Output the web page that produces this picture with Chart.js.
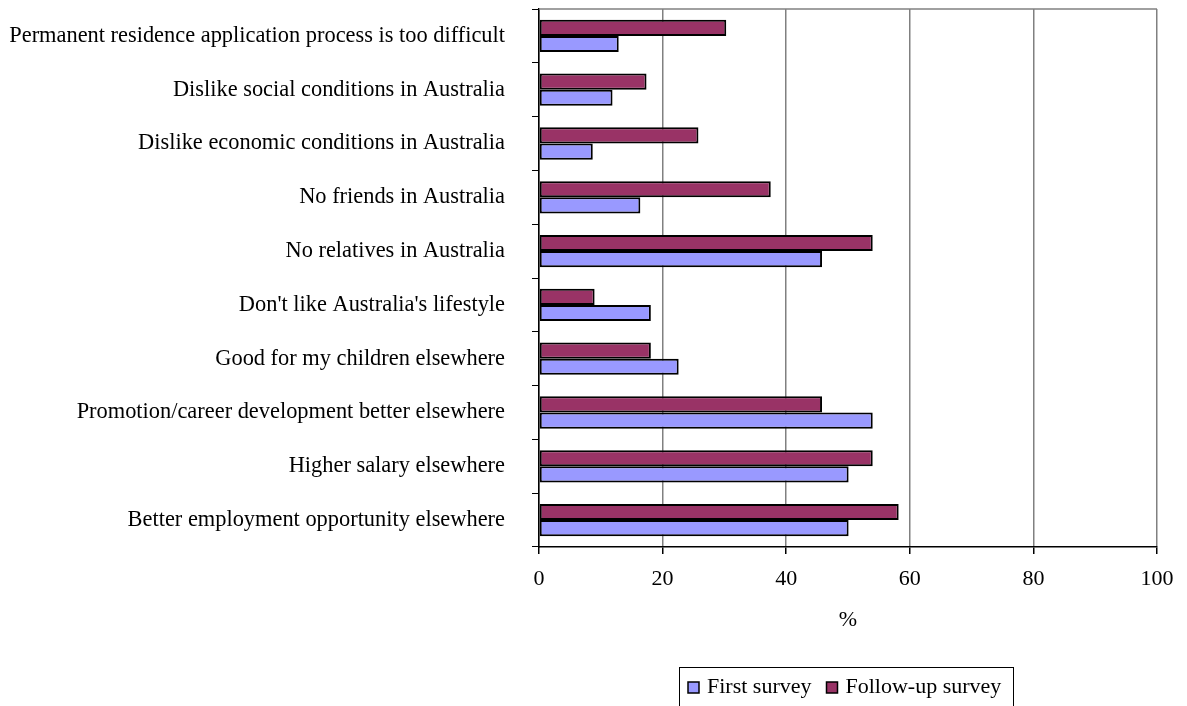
<!DOCTYPE html>
<html>
<head>
<meta charset="utf-8">
<script src="https://cdn.jsdelivr.net/npm/chart.js@4/dist/chart.umd.min.js"></script>
<style>
  body { margin: 0; background: #fff; }
  #wrap { width: 1187px; height: 706px; position: relative; }
</style>
</head>
<body>
<div id="wrap"><canvas id="myBarChart"></canvas></div>
<script>
var categories = [
    "Permanent residence application process is too difficult",
    "Dislike social conditions in Australia",
    "Dislike economic conditions in Australia",
    "No friends in Australia",
    "No relatives in Australia",
    "Don't like Australia's lifestyle",
    "Good for my children elsewhere",
    "Promotion/career development better elsewhere",
    "Higher salary elsewhere",
    "Better employment opportunity elsewhere"
];
var firstSurvey = [12.9, 11.9, 8.7, 16.4, 45.8, 18.1, 22.6, 54.0, 50.1, 50.1];
var followUpSurvey = [30.3, 17.4, 25.8, 37.5, 54.0, 9.0, 18.1, 45.8, 54.0, 58.2];
var xTicks = [0, 20, 40, 60, 80, 100];
var axisTitle = "%";

Chart.defaults.font.family = "'Liberation Serif', 'Times New Roman', serif";
Chart.defaults.font.size = 22;
Chart.defaults.color = "#000";

// top border of the plot area
var plotTop = {
    id: 'plotTop',
    beforeDatasetsDraw: function (chart) {
        var a = chart.chartArea, ctx = chart.ctx;
        ctx.save();
        ctx.strokeStyle = "#808080";
        ctx.lineWidth = 1.5;
        ctx.beginPath();
        ctx.moveTo(a.left, a.top);
        ctx.lineTo(a.right, a.top);
        ctx.stroke();
        ctx.restore();
    }
};

// boxed legend under the axis title, first survey listed first
var boxLegend = {
    id: 'boxLegend',
    afterDraw: function (chart) {
        var ctx = chart.ctx;
        ctx.save();
        ctx.strokeStyle = "#000";
        ctx.lineWidth = 1;
        ctx.strokeRect(679.5, 667.5, 334, 50);
        ctx.font = "22px 'Liberation Serif'";
        ctx.textBaseline = "alphabetic";
        var x = 688;
        [1, 0].forEach(function (i) {
            var ds = chart.data.datasets[i];
            ctx.fillStyle = ds.backgroundColor;
            ctx.fillRect(x, 682, 11, 11);
            ctx.lineWidth = 1.5;
            ctx.strokeRect(x, 682, 11, 11);
            ctx.fillStyle = "#000";
            ctx.fillText(ds.label, x + 19, 693);
            x += 19 + ctx.measureText(ds.label).width + 15;
        });
        ctx.restore();
    }
};

var myBarChart = new Chart(document.getElementById("myBarChart"), {
    type: 'bar',
    data: {
        labels: categories,
        datasets: [
            {
                label: "Follow-up survey",
                data: followUpSurvey,
                backgroundColor: "#993366",
                borderColor: "#000",
                borderWidth: 2,
                borderSkipped: false
            },
            {
                label: "First survey",
                data: firstSurvey,
                backgroundColor: "#9999FF",
                borderColor: "#000",
                borderWidth: 2,
                borderSkipped: false
            }
        ]
    },
    options: {
        indexAxis: 'y',
        responsive: true,
        maintainAspectRatio: false,
        animation: false,
        categoryPercentage: 0.6,
        barPercentage: 1,
        layout: {
            padding: { left: 0, right: 30, top: 9, bottom: 0 }
        },
        plugins: {
            legend: { display: false },
            tooltip: { enabled: false }
        },
        scales: {
            x: {
                min: 0,
                max: 100,
                afterBuildTicks: function (scale) {
                    scale.ticks = xTicks.map(function (v) { return { value: v }; });
                },
                afterFit: function (scale) { scale.height = 159; },
                grid: {
                    color: "#808080",
                    lineWidth: 1.5,
                    tickColor: "#000",
                    tickLength: 7
                },
                border: { color: "#000", width: 1.5 },
                ticks: { padding: 12, maxRotation: 0 },
                title: {
                    display: true,
                    text: axisTitle,
                    padding: { top: 0, bottom: 73 }
                }
            },
            y: {
                afterFit: function (scale) {
                    scale.width = 539;
                    scale.paddingTop = 0;
                    scale.paddingBottom = 0;
                },
                grid: {
                    offset: true,
                    drawOnChartArea: false,
                    tickColor: "#000",
                    tickLength: 7
                },
                border: { color: "#000", width: 1.5 },
                ticks: { padding: 27, autoSkip: false, font: { size: 22.4 } }
            }
        }
    },
    plugins: [plotTop, boxLegend]
});
</script>
</body>
</html>
